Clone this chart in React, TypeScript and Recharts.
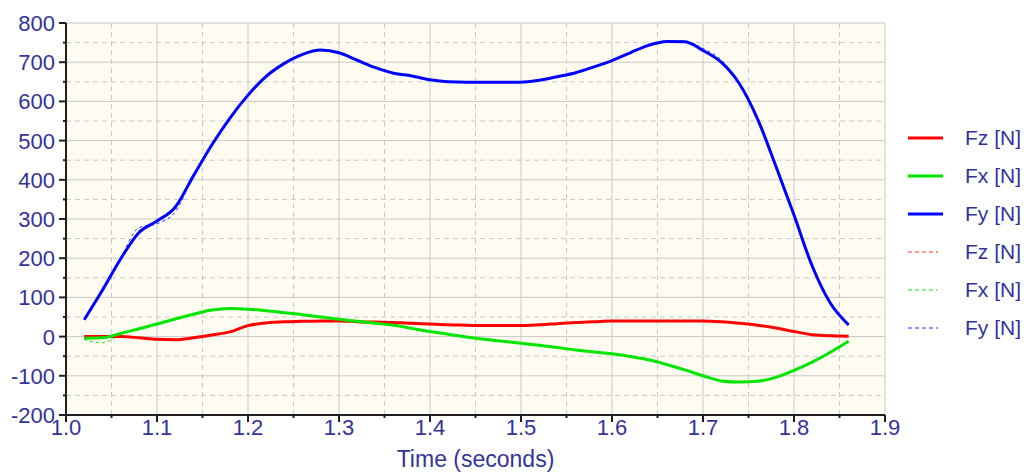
import { LineChart, Line, XAxis, YAxis, CartesianGrid, ReferenceLine } from 'recharts';

const time = [
  1.02, 1.04, 1.06, 1.08, 1.1, 1.12, 1.14, 1.16, 1.18, 1.2, 1.22, 1.24, 1.26, 1.28, 1.3,
  1.32, 1.34, 1.36, 1.38, 1.4, 1.42, 1.44, 1.46, 1.48, 1.5, 1.52, 1.54, 1.56, 1.58, 1.6,
  1.62, 1.64, 1.66, 1.68, 1.7, 1.72, 1.74, 1.76, 1.78, 1.8, 1.82, 1.84, 1.86,
];

const fz = [
  0, 0, 0, -3, -7, -8, -3, 4, 12, 28, 35, 38, 39, 40, 40,
  38, 37, 36, 34, 32, 30, 29, 28, 28, 28, 30, 33, 36, 38, 40,
  40, 40, 40, 40, 40, 38, 34, 29, 22, 13, 5, 2, 1,
];
const fx = [
  -4, -3, 8, 20, 32, 45, 57, 68, 72, 70, 66, 61, 56, 50, 44,
  39, 34, 29, 21, 13, 6, -1, -7, -12, -17, -22, -28, -34, -39, -44,
  -51, -59, -71, -85, -100, -113, -116, -114, -104, -86, -65, -40, -12,
];
const fy = [
  43, 118, 198, 265, 295, 330, 410, 488, 557, 616, 664, 697, 720, 731, 724,
  705, 686, 672, 665, 655, 650, 649, 649, 649, 649, 654, 663, 673, 688, 704,
  724, 743, 753, 752, 730, 700, 645, 555, 435, 310, 180, 85, 30,
];

// second (dashed) set of measurements, nearly identical
const fz2 = [
  1, 0, -1, -3, -6, -8, -4, 4, 13, 27, 35, 38, 40, 40, 39,
  38, 37, 36, 34, 32, 30, 29, 28, 28, 28, 30, 33, 36, 38, 40,
  40, 41, 40, 40, 40, 38, 34, 29, 22, 13, 5, 2, 1,
];
const fx2 = [
  -8, -16, 5, 20, 32, 45, 57, 68, 72, 70, 66, 61, 56, 50, 44,
  39, 34, 29, 21, 13, 6, -1, -7, -12, -17, -22, -28, -34, -39, -44,
  -51, -59, -71, -85, -100, -113, -116, -114, -104, -86, -65, -40, -12,
];
const fy2 = [
  43, 122, 200, 278, 288, 318, 410, 488, 557, 616, 664, 697, 720, 731, 724,
  705, 686, 672, 665, 655, 650, 649, 649, 649, 649, 654, 663, 673, 688, 704,
  724, 743, 753, 754, 735, 706, 645, 555, 435, 310, 180, 85, 30,
];

const xMajor = [1.0, 1.1, 1.2, 1.3, 1.4, 1.5, 1.6, 1.7, 1.8, 1.9];
const xMinor = [1.05, 1.15, 1.25, 1.35, 1.45, 1.55, 1.65, 1.75, 1.85];
const yMajor = [-200, -100, 0, 100, 200, 300, 400, 500, 600, 700, 800];
const yMinor = [-150, -50, 50, 150, 250, 350, 450, 550, 650, 750];

const legendItems = [
  { label: 'Fz [N]', color: '#ff0000', dashed: false },
  { label: 'Fx [N]', color: '#00e600', dashed: false },
  { label: 'Fy [N]', color: '#0000ff', dashed: false },
  { label: 'Fz [N]', color: '#ff3030', dashed: true },
  { label: 'Fx [N]', color: '#20e020', dashed: true },
  { label: 'Fy [N]', color: '#3030ff', dashed: true },
];

const data = time.map((t, i) => ({
  t,
  fz: fz[i],
  fx: fx[i],
  fy: fy[i],
  fz2: fz2[i],
  fx2: fx2[i],
  fy2: fy2[i],
}));

const xTicks = [...xMajor, ...xMinor].sort((a, b) => a - b);
const yTicks = [...yMajor, ...yMinor].sort((a, b) => a - b);

const NAVY = '#33339a';
const AXIS = '#202020';
const GRID = '#c8c8c8';
const FONT = '"Liberation Sans", Arial, sans-serif';

const isMajorX = (v: number) => xMajor.some((m) => Math.abs(m - v) < 1e-6);
const isMajorY = (v: number) => yMajor.includes(v);

const XTick = ({ x, y, payload }: any) => {
  const major = isMajorX(payload.value);
  return (
    <g>
      <line x1={x} y1={y} x2={x} y2={y + (major ? 7 : 3)} stroke={AXIS} strokeWidth={2} />
      {major && (
        <text x={x} y={y + 20} textAnchor="middle" fill={NAVY} fontSize={22} fontFamily={FONT}>
          {Number(payload.value).toFixed(1)}
        </text>
      )}
    </g>
  );
};

const YTick = ({ x, y, payload }: any) => {
  const major = isMajorY(payload.value);
  return (
    <g>
      <line x1={x - (major ? 7 : 3)} y1={y} x2={x} y2={y} stroke={AXIS} strokeWidth={2} />
      {major && (
        <text x={x - 11} y={y + 8} textAnchor="end" fill={NAVY} fontSize={22} fontFamily={FONT}>
          {payload.value}
        </text>
      )}
    </g>
  );
};

const LegendBox = () => (
  <div style={{ position: 'absolute', left: 905, top: 119, fontFamily: FONT }}>
    {legendItems.map((item, i) => (
      <div key={i} style={{ height: 38, display: 'flex', alignItems: 'center' }}>
        <svg width={36} height={6} style={{ marginLeft: 3 }}>
          <line
            x1={0}
            y1={3}
            x2={item.dashed ? 30 : 35}
            y2={3}
            stroke={item.color}
            strokeWidth={item.dashed ? 1 : 3}
            strokeDasharray={item.dashed ? '4 3' : undefined}
          />
        </svg>
        <span style={{ marginLeft: 21, fontSize: 21, color: NAVY, whiteSpace: 'nowrap' }}>
          {item.label}
        </span>
      </div>
    ))}
  </div>
);

export default function App() {
  return (
    <div style={{ position: 'relative', width: 1024, height: 473 }}>
      <style>{'body { margin: 0; }'}</style>
      <LineChart
        width={1024}
        height={473}
        data={data}
        margin={{ top: 23, right: 139, bottom: 0, left: 6 }}
        style={{ fontFamily: FONT }}
      >
        <CartesianGrid horizontal={false} vertical={false} fill="#fefcf0" fillOpacity={1} />
        {yMinor.map((v) => (
          <ReferenceLine key={`ym${v}`} y={v} stroke={GRID} strokeDasharray="5 4" />
        ))}
        {xMinor.map((v) => (
          <ReferenceLine key={`xm${v}`} x={v} stroke={GRID} strokeDasharray="5 4" />
        ))}
        {yMajor.filter((v) => v > -200).map((v) => (
          <ReferenceLine key={`yM${v}`} y={v} stroke={GRID} />
        ))}
        {xMajor.filter((v) => v > 1.0).map((v) => (
          <ReferenceLine key={`xM${v}`} x={v} stroke={GRID} />
        ))}
        <XAxis
          dataKey="t"
          type="number"
          domain={[1, 1.9]}
          ticks={xTicks}
          interval={0}
          height={58}
          tick={<XTick />}
          tickSize={0}
          tickMargin={0}
          axisLine={{ stroke: AXIS, strokeWidth: 2 }}
          tickLine={false}
          allowDataOverflow
          label={{ value: 'Time (seconds)', position: 'insideBottom', offset: 6, fill: NAVY, fontSize: 23 }}
        />
        <YAxis
          type="number"
          domain={[-200, 800]}
          ticks={yTicks}
          interval={0}
          width={60}
          tick={<YTick />}
          tickSize={0}
          tickMargin={0}
          axisLine={{ stroke: AXIS, strokeWidth: 2 }}
          tickLine={false}
          allowDataOverflow
        />
        <Line type="monotone" dataKey="fz2" stroke="#ff3030" strokeWidth={1} strokeDasharray="3 3" dot={false} isAnimationActive={false} />
        <Line type="monotone" dataKey="fx2" stroke="#20e020" strokeWidth={1} strokeDasharray="3 3" dot={false} isAnimationActive={false} />
        <Line type="monotone" dataKey="fy2" stroke="#3030ff" strokeWidth={1} strokeDasharray="3 3" dot={false} isAnimationActive={false} />
        <Line type="monotone" dataKey="fz" stroke="#ff0000" strokeWidth={3} dot={false} isAnimationActive={false} />
        <Line type="monotone" dataKey="fx" stroke="#00e600" strokeWidth={3} dot={false} isAnimationActive={false} />
        <Line type="monotone" dataKey="fy" stroke="#0000ff" strokeWidth={3} dot={false} isAnimationActive={false} />
      </LineChart>
      <LegendBox />
    </div>
  );
}
